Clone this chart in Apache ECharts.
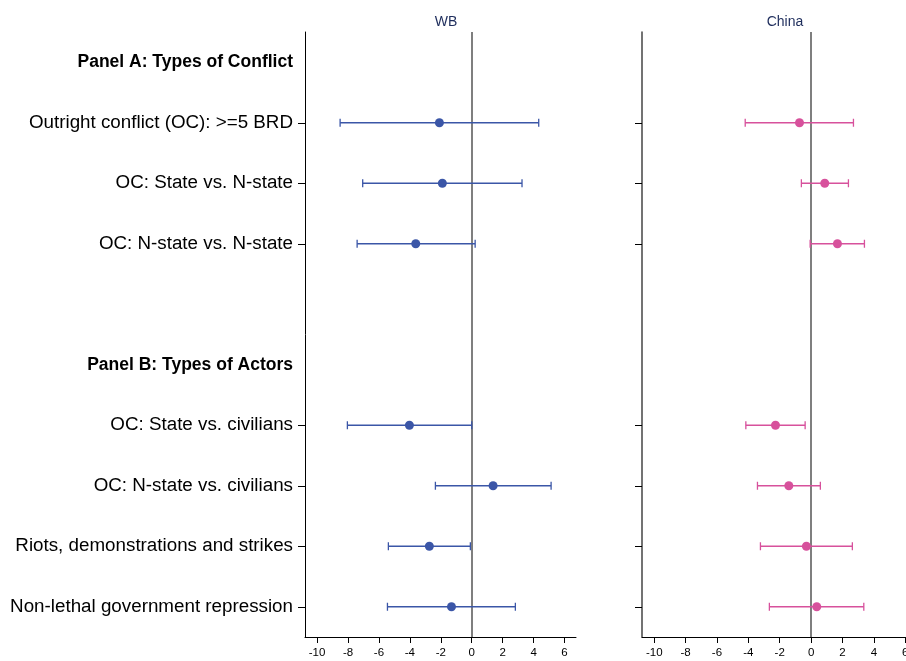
<!DOCTYPE html>
<html>
<head>
<meta charset="utf-8">
<script src="https://cdn.jsdelivr.net/npm/echarts@6/dist/echarts.min.js"></script>
<style>
  html, body { margin: 0; padding: 0; background: #fff; }
  #chart { width: 906px; height: 661px; }
</style>
</head>
<body>
<div id="chart"></div>
<script>
// Rows of the coefficient plot (headings have no estimate)
const categories = [
  'Panel A: Types of Conflict',
  'Outright conflict (OC): >=5 BRD',
  'OC: State vs. N-state',
  'OC: N-state vs. N-state',
  '',
  'Panel B: Types of Actors',
  'OC: State vs. civilians',
  'OC: N-state vs. civilians',
  'Riots, demonstrations and strikes',
  'Non-lethal government repression'
];
const headings = ['Panel A: Types of Conflict', 'Panel B: Types of Actors'];

// WB estimates with confidence interval bounds
const wbPoint = [null, -2.09, -1.90, -3.62, null, null, -4.03, 1.38, -2.74, -1.31];
const wbLow   = [null, -8.51, -7.05, -7.41, null, null, -8.04, -2.35, -5.39, -5.45];
const wbHigh  = [null,  4.33,  3.25,  0.22, null, null,  0.00,  5.13, -0.09,  2.82];

// China estimates with confidence interval bounds
const cnPoint = [null, -0.74, 0.87, 1.68, null, null, -2.27, -1.42, -0.30, 0.36];
const cnLow   = [null, -4.20, -0.62, -0.06, null, null, -4.16, -3.42, -3.23, -2.66];
const cnHigh  = [null,  2.70,  2.38,  3.40, null, null, -0.38,  0.59,  2.63,  3.36];

const xTicks = [-10, -8, -6, -4, -2, 0, 2, 4, 6];
const panelTitles = ['WB', 'China'];

const blue = '#3b56a7';
const pink = '#d7519c';
const font = 'Liberation Sans, Arial, Helvetica, sans-serif';

const isHeading = v => headings.indexOf(v) >= 0;

function rows(point, low, high) {
  const out = [];
  categories.forEach((c, i) => {
    if (point[i] !== null) out.push([low[i], high[i], point[i], c]);
  });
  return out;
}

function errorBars(idx, color, data) {
  return {
    type: 'custom',
    xAxisIndex: idx,
    yAxisIndex: idx,
    data: data,
    encode: { x: [0, 1], y: 3 },
    z: 3,
    renderItem: function (params, api) {
      const y = api.value(3);
      const a = api.coord([api.value(0), y]);
      const b = api.coord([api.value(1), y]);
      const h = 4;
      const st = { stroke: color, lineWidth: 1.3 };
      return {
        type: 'group',
        children: [
          { type: 'line', shape: { x1: a[0], y1: a[1], x2: b[0], y2: b[1] }, style: st },
          { type: 'line', shape: { x1: a[0], y1: a[1] - h, x2: a[0], y2: a[1] + h }, style: st },
          { type: 'line', shape: { x1: b[0], y1: b[1] - h, x2: b[0], y2: b[1] + h }, style: st }
        ]
      };
    }
  };
}

function points(idx, color, data) {
  return {
    type: 'scatter',
    xAxisIndex: idx,
    yAxisIndex: idx,
    data: data.map(d => [d[2], d[3]]),
    symbolSize: 9,
    itemStyle: { color: color, opacity: 1 },
    z: 5,
    markLine: {
      silent: true,
      symbol: 'none',
      label: { show: false },
      lineStyle: { color: '#555', width: 1.5, type: 'solid' },
      data: [{ xAxis: 0 }],
      z: 2
    }
  };
}

function xAxis(idx, max) {
  return {
    type: 'value',
    gridIndex: idx,
    min: -10.78,
    max: max,
    splitLine: { show: false },
    axisLine: { show: true, onZero: false, lineStyle: { color: '#000', width: 1 } },
    axisTick: { show: true, customValues: xTicks, length: 6, lineStyle: { color: '#000' } },
    axisLabel: { customValues: xTicks, color: '#000', fontSize: 11.5, fontFamily: font, margin: 10 }
  };
}

function yAxis(idx) {
  return {
    type: 'category',
    gridIndex: idx,
    data: categories,
    inverse: true,
    boundaryGap: true,
    axisLine: { show: true, onZero: false, lineStyle: { color: idx === 0 ? '#000' : '#444', width: idx === 0 ? 1 : 1.5 } },
    axisTick: {
      show: true,
      alignWithLabel: true,
      length: 7,
      interval: (i, v) => v !== '' && !isHeading(v),
      lineStyle: { color: '#000' }
    },
    axisLabel: {
      show: idx === 0,
      interval: 0,
      margin: 12,
      color: '#000',
      fontSize: 18.8,
      fontFamily: font,
      formatter: v => isHeading(v) ? '{h|' + v + '}' : v,
      rich: { h: { fontWeight: 'bold', fontSize: 17.5, fontFamily: font, color: '#000' } }
    },
    splitLine: { show: false }
  };
}

const wbData = rows(wbPoint, wbLow, wbHigh);
const cnData = rows(cnPoint, cnLow, cnHigh);

const chart = echarts.init(document.getElementById('chart'), null, { renderer: 'canvas' });
chart.setOption({
  animation: false,
  backgroundColor: '#fff',
  title: [
    { text: panelTitles[0], left: 441, top: 10, textAlign: 'center',
      textStyle: { color: '#1e2d5c', fontSize: 14, fontWeight: 'normal', fontFamily: font } },
    { text: panelTitles[1], left: 780, top: 10, textAlign: 'center',
      textStyle: { color: '#1e2d5c', fontSize: 14, fontWeight: 'normal', fontFamily: font } }
  ],
  grid: [
    { left: 305, top: 32, width: 271, height: 605, outerBoundsMode: 'none', containLabel: false },
    { left: 642, top: 32, width: 264, height: 605, outerBoundsMode: 'none', containLabel: false }
  ],
  xAxis: [xAxis(0, 6.74), xAxis(1, 6.05)],
  yAxis: [yAxis(0), yAxis(1)],
  series: [
    errorBars(0, blue, wbData),
    points(0, blue, wbData),
    errorBars(1, pink, cnData),
    points(1, pink, cnData)
  ]
});
</script>
</body>
</html>
